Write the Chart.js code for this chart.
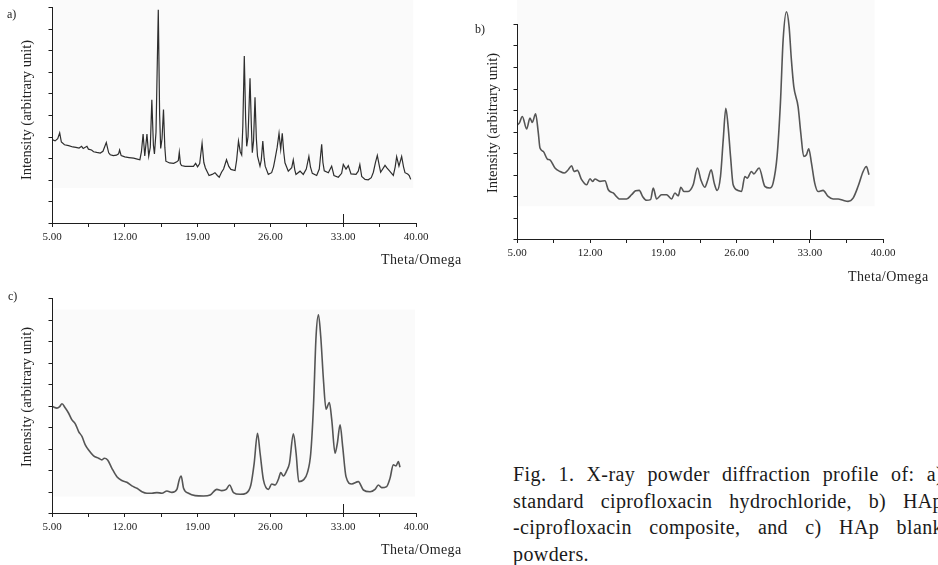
<!DOCTYPE html>
<html>
<head>
<meta charset="utf-8">
<script src="https://cdn.jsdelivr.net/npm/chart.js@4.4.1/dist/chart.umd.min.js"></script>
<style>
  html, body { margin: 0; padding: 0; background: #fff; }
  body { width: 938px; height: 565px; position: relative; overflow: hidden; font-family: "Liberation Serif", serif; color: #222; }
  canvas { position: absolute; }
  .lbl { position: absolute; font-size: 12px; line-height: 12px; white-space: nowrap; }
  .ytitle { position: absolute; font-size: 14.5px; line-height: 15px; white-space: nowrap; transform: translate(-50%, -50%) rotate(-90deg); }
  .xtitle { position: absolute; font-size: 14px; line-height: 14px; letter-spacing: 0.4px; white-space: nowrap; }
  .caption { position: absolute; left: 513px; top: 461px; width: 430px; font-size: 20px; line-height: 26.7px; letter-spacing: 0.4px; color: #1a1a1a; }
  .caption div { text-align: justify; text-align-last: justify; white-space: nowrap; }
  .caption div.last { text-align-last: left; }
</style>
</head>
<body>

<canvas id="chartA" width="470" height="270" style="left:0;top:0"></canvas>
<canvas id="chartB" width="468" height="290" style="left:470px;top:0"></canvas>
<canvas id="chartC" width="470" height="285" style="left:0;top:280px"></canvas>

<div class="lbl" style="left:7px;top:8px">a)</div>
<div class="lbl" style="left:475px;top:23px">b)</div>
<div class="lbl" style="left:8px;top:290px">c)</div>

<div class="ytitle" style="left:26px;top:110px">Intensity (arbitrary unit)</div>
<div class="ytitle" style="left:492px;top:123px">Intensity (arbitrary unit)</div>
<div class="ytitle" style="left:26px;top:397px">Intensity (arbitrary unit)</div>

<div class="xtitle" style="left:381px;top:253px">Theta/Omega</div>
<div class="xtitle" style="left:848px;top:270px">Theta/Omega</div>
<div class="xtitle" style="left:381px;top:543px">Theta/Omega</div>

<div class="caption">
  <div>Fig. 1. X-ray powder diffraction profile of: a)</div>
  <div>standard ciprofloxacin hydrochloride, b) HAp</div>
  <div>-ciprofloxacin composite, and c) HAp blank</div>
  <div class="last">powders.</div>
</div>

<script>
// x axis: 2theta range, ticks every 3.5, labels every 7
const xTicks = [5, 8.5, 12, 15.5, 19, 22.5, 26, 29.5, 33, 36.5, 40];
const xLabelled = [5, 12, 19, 26, 33, 40];
const yTicks = [0, 1, 2, 3, 4, 5, 6, 7, 8, 9, 10];

// a) standard ciprofloxacin hydrochloride
const angleA = [5.0, 5.3, 5.55, 5.74, 5.9, 6.2, 6.6, 7.0, 7.3, 7.6, 7.85, 8.0, 8.36, 8.5, 8.8, 9.0,
  9.3, 9.64, 9.9, 10.22, 10.45, 10.6, 10.9, 11.2, 11.4, 11.5, 11.65, 12.0, 12.4, 12.85, 13.2,
  13.45, 13.6, 13.76, 13.92, 14.13, 14.3, 14.45, 14.6, 14.75, 14.85, 15.0, 15.22, 15.35, 15.45,
  15.58, 15.72, 15.85, 15.95, 16.3, 16.7, 17.0, 17.15, 17.24, 17.35, 17.45, 17.8, 18.2, 18.6,
  18.81, 19.0, 19.2, 19.43, 19.6, 19.75, 20.1, 20.4, 20.67, 20.9, 21.08, 21.3, 21.5, 21.78,
  22.0, 22.2, 22.6, 22.75, 22.93, 23.1, 23.24, 23.35, 23.49, 23.62, 23.72, 23.85, 24.04, 24.17,
  24.26, 24.38, 24.52, 24.65, 24.76, 25.0, 25.12, 25.27, 25.4, 25.5, 25.8, 26.12, 26.3, 26.44,
  26.65, 26.83, 26.99, 27.14, 27.28, 27.4, 27.72, 28.05, 28.2, 28.35, 28.46, 28.85, 29.16, 29.45,
  29.7, 29.85, 30.03, 30.45, 30.7, 30.93, 31.05, 31.18, 31.57, 31.89, 32.11, 32.53, 32.85, 33.01,
  33.27, 33.49, 33.75, 34.23, 34.45, 34.6, 34.78, 35.1, 35.41, 35.7, 35.9, 36.1, 36.28, 36.45,
  36.6, 37.02, 37.2, 37.43, 37.82, 38.0, 38.14, 38.36, 38.62, 38.8, 38.94, 39.2, 39.35, 39.49];
const intensityA = [3.86, 3.80, 3.90, 4.17, 3.75, 3.62, 3.58, 3.52, 3.50, 3.47, 3.55, 3.45, 3.55, 3.42, 3.38, 3.30,
  3.27, 3.24, 3.32, 3.72, 3.25, 3.16, 3.12, 3.14, 3.20, 3.38, 3.12, 3.06, 3.03, 3.00, 2.96,
  2.93, 3.30, 4.12, 3.10, 4.12, 3.10, 3.50, 5.70, 3.60, 3.20, 4.20, 9.87, 5.00, 3.45,
  3.90, 5.25, 3.50, 2.86, 2.78, 2.76, 2.83, 2.90, 3.27, 2.75, 2.66, 2.62, 2.62, 2.62,
  2.76, 2.60, 2.75, 3.69, 2.80, 2.55, 2.20, 2.25, 2.33, 2.20, 2.12, 2.35, 2.50, 2.93,
  2.62, 2.48, 2.43, 2.90, 3.79, 3.30, 3.15, 4.50, 7.73, 4.80, 3.55, 4.00, 6.70, 4.50,
  3.25, 3.80, 5.82, 3.90, 3.10, 2.63, 2.90, 3.79, 3.00, 2.63, 2.25, 2.33, 2.60, 2.95,
  3.50, 4.15, 3.41, 4.15, 3.30, 2.79, 2.40, 2.56, 2.92, 2.45, 2.25, 2.40, 2.25, 2.50,
  3.08, 2.60, 2.30, 2.20, 2.50, 3.64, 2.80, 2.42, 2.33, 2.63, 2.20, 2.12, 2.30, 2.71,
  2.50, 2.66, 2.27, 2.25, 2.40, 2.70, 2.15, 2.02, 2.00, 2.10, 2.35, 2.80, 3.13, 2.70,
  2.35, 2.67, 2.55, 2.42, 2.20, 2.60, 3.07, 2.63, 3.08, 2.60, 2.33, 2.27, 2.20, 2.02];

// b) HAp-ciprofloxacin composite
const angleB = [5.0, 5.22, 5.51, 5.92, 6.24, 6.46, 6.78, 7.04, 7.2, 7.52, 7.9, 8.15, 8.63, 9.11, 9.52,
  9.9, 10.22, 10.45, 10.77, 11.18, 11.66, 11.98, 12.23, 12.45, 12.93, 13.41, 13.73, 14.2, 14.84,
  15.48, 15.96, 16.34, 16.69, 17.01, 17.39, 17.77, 18.03, 18.35, 18.82, 19.3, 19.78, 20.1, 20.42,
  20.67, 20.96, 21.37, 21.85, 22.26, 22.58, 22.96, 23.25, 23.57, 23.86, 24.14, 24.46, 24.72, 24.97,
  25.19, 25.42, 25.67, 26.15, 26.47, 26.79, 27.01, 27.42, 27.65, 28.15, 28.7, 29.17, 29.49, 29.87,
  30.19, 30.45, 30.77, 31.02, 31.24, 31.47, 31.88, 32.14, 32.42, 32.68, 32.9, 33.16, 33.47, 33.79,
  34.27, 34.75, 35.23, 35.71, 36.18, 36.66, 37.14, 37.62, 38.1, 38.41, 38.66];
const intensityB = [5.3, 5.39, 5.70, 5.12, 5.62, 5.42, 5.82, 4.92, 4.23, 4.07, 3.72, 3.68, 3.30, 3.14, 3.07,
  3.22, 3.41, 3.14, 3.19, 2.76, 2.52, 2.80, 2.68, 2.79, 2.68, 2.71, 2.29, 2.14, 1.86,
  1.86, 2.06, 2.24, 2.26, 1.98, 1.80, 1.83, 2.37, 1.86, 2.06, 2.06, 1.86, 2.14, 2.01,
  2.41, 2.21, 2.21, 2.52, 3.30, 2.76, 2.41, 2.76, 3.22, 2.60, 2.26, 2.91, 4.61, 6.08,
  5.23, 3.84, 2.52, 2.26, 2.21, 2.91, 2.83, 3.14, 3.03, 3.30, 2.45, 2.37, 2.60, 3.84,
  6.32, 9.26, 10.57, 9.88, 8.33, 7.09, 6.16, 4.92, 3.84, 3.92, 4.20, 3.53, 2.60, 2.21,
  2.26, 1.98, 1.86, 1.86, 1.80, 1.75, 1.90, 2.45, 3.14, 3.37, 2.99];

// c) HAp blank powders
const angleC = [5.06, 5.48, 5.74, 5.96, 6.28, 6.6, 6.92, 7.24, 7.56, 7.88, 8.2, 8.52, 9.0, 9.48, 9.8,
  10.03, 10.35, 10.76, 11.24, 11.72, 12.2, 12.68, 13.17, 13.65, 14.13, 14.61, 15.09, 15.57, 16.05,
  16.53, 17.01, 17.23, 17.42, 17.65, 18.13, 18.77, 19.57, 20.21, 20.85, 21.33, 21.75, 22.07, 22.45,
  23.09, 23.67, 24.12, 24.44, 24.76, 25.01, 25.33, 25.81, 26.13, 26.45, 26.77, 27.0, 27.25, 27.57,
  27.83, 28.21, 28.47, 28.73, 29.18, 29.56, 29.88, 30.14, 30.39, 30.62, 30.84, 31.1, 31.35, 31.67,
  31.9, 32.22, 32.44, 32.7, 32.95, 33.27, 33.82, 34.46, 34.94, 35.58, 36.06, 36.38, 36.7, 37.18,
  37.5, 37.82, 38.08, 38.3, 38.46];
const intensityC = [4.95, 4.88, 4.95, 5.08, 4.88, 4.64, 4.33, 4.15, 3.79, 3.56, 3.17, 2.93, 2.66, 2.55, 2.47,
  2.55, 2.47, 2.08, 1.69, 1.51, 1.43, 1.26, 1.15, 0.99, 0.92, 0.92, 0.95, 0.92, 1.02,
  0.96, 1.10, 1.54, 1.72, 1.15, 0.92, 0.81, 0.79, 0.84, 1.10, 1.04, 1.10, 1.30, 0.95,
  0.87, 0.92, 1.30, 2.31, 3.71, 2.78, 1.54, 1.10, 1.35, 1.30, 1.57, 1.88, 1.72, 1.97,
  2.31, 3.68, 2.78, 1.46, 1.54, 1.88, 2.78, 4.95, 8.21, 9.22, 8.21, 6.20, 4.83, 5.14,
  4.33, 2.78, 3.25, 4.10, 3.09, 1.69, 1.35, 1.46, 1.07, 0.99, 1.10, 1.30, 1.18, 1.23,
  1.61, 2.24, 2.19, 2.39, 2.13];

const axisColor = '#1e1e1e';

// faint grey plot backdrop, y axis line + ticks up to 10, taller marker tick at 33
const axisDecor = {
    id: 'axisDecor',
    beforeDatasetsDraw(chart, args, opts) {
        const { ctx, scales: { x, y } } = chart;
        const b = opts.box;
        if (!b) return;
        const left = x.getPixelForValue(b[0]);
        const right = x.getPixelForValue(b[1]);
        const bottom = y.getPixelForValue(b[2]);
        const top = b[3] == null ? 0 : y.getPixelForValue(b[3]);
        ctx.save();
        ctx.fillStyle = '#fafafa';
        ctx.fillRect(left, top, right - left, bottom - top);
        ctx.restore();
    },
    afterDraw(chart) {
        const { ctx, scales: { x, y } } = chart;
        const x0 = Math.round(x.getPixelForValue(5)) + 0.5;
        ctx.save();
        ctx.strokeStyle = axisColor;
        ctx.lineWidth = 1;
        ctx.beginPath();
        ctx.moveTo(x0, y.getPixelForValue(0));
        ctx.lineTo(x0, y.getPixelForValue(10));
        yTicks.forEach(v => {
            const py = Math.round(y.getPixelForValue(v)) + 0.5;
            ctx.moveTo(x0 - 4, py);
            ctx.lineTo(x0, py);
        });
        const pm = Math.round(x.getPixelForValue(33)) + 0.5;
        const py0 = y.getPixelForValue(0);
        ctx.moveTo(pm, py0);
        ctx.lineTo(pm, py0 - 9);
        ctx.stroke();
        ctx.restore();
    }
};

function toPoints(angles, values) {
    return angles.map((a, i) => ({ x: a, y: values[i] }));
}

function makeChart(id, angles, values, opts) {
    const ctx = document.getElementById(id).getContext('2d');
    return new Chart(ctx, {
        type: 'line',
        data: {
            datasets: [{
                data: toPoints(angles, values),
                borderColor: opts.color,
                borderWidth: opts.width,
                pointRadius: 0,
                tension: opts.smooth ? 0.4 : 0,
                cubicInterpolationMode: opts.smooth ? 'monotone' : 'default',
                fill: false
            }]
        },
        options: {
            responsive: false,
            animation: false,
            layout: { padding: opts.padding },
            plugins: {
                legend: { display: false },
                tooltip: { enabled: false },
                axisDecor: { box: opts.box }
            },
            scales: {
                x: {
                    type: 'linear',
                    min: 5,
                    max: 40,
                    afterBuildTicks: (scale) => {
                        scale.ticks = xTicks.map(v => ({ value: v }));
                    },
                    afterFit: (scale) => { scale.height = 20; },
                    ticks: {
                        autoSkip: false,
                        maxRotation: 0,
                        padding: 4,
                        color: '#222',
                        font: { family: 'Liberation Serif', size: 11 },
                        callback: (v) => xLabelled.includes(v) ? v.toFixed(2) : ''
                    },
                    grid: {
                        display: true,
                        drawOnChartArea: false,
                        drawTicks: true,
                        tickLength: 4,
                        color: axisColor
                    },
                    border: { display: true, color: axisColor, width: 1 }
                },
                y: {
                    display: false,
                    min: 0,
                    max: opts.ymax
                }
            }
        },
        plugins: [axisDecor]
    });
}

makeChart('chartA', angleA, intensityA, {
    color: '#2e2e2e', width: 1.2, smooth: false, ymax: 10,
    box: [5, 39.74, 1.62, null],
    padding: { left: 52, right: 54, top: 7, bottom: 27 }
});
makeChart('chartB', angleB, intensityB, {
    color: '#555', width: 1.6, smooth: true, ymax: 11,
    box: [5, 39.2, 1.52, null],
    padding: { left: 47, right: 55, top: 2.5, bottom: 31 }
});
makeChart('chartC', angleC, intensityC, {
    color: '#555', width: 1.6, smooth: true, ymax: 10,
    box: [5, 39.9, 0.76, 9.46],
    padding: { left: 52, right: 54, top: 18, bottom: 32 }
});
</script>
</body>
</html>
